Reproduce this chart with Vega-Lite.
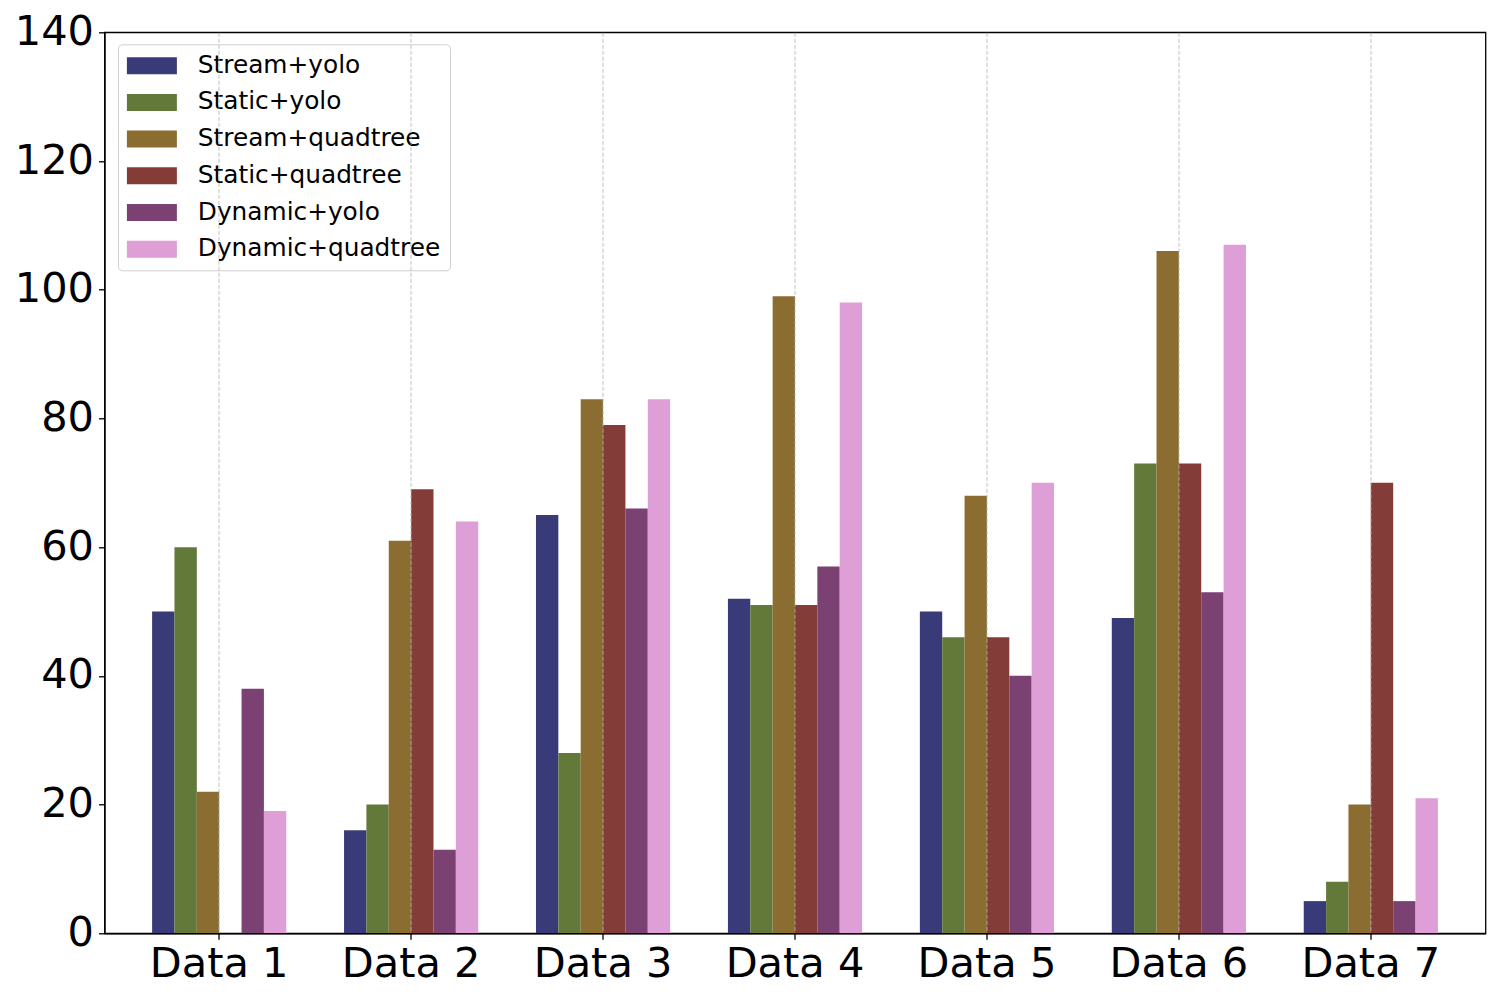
{
  "$schema": "https://vega.github.io/schema/vega-lite/v6.json",
  "width": 1381,
  "height": 901,
  "autosize": "none",
  "padding": {"left": 104.5, "top": 32.3, "right": 14.5, "bottom": 66.7},
  "background": "white",
  "config": {
    "font": "DejaVu Sans",
    "view": {"stroke": "black", "strokeWidth": 1.3}
  },
  "data": {
    "values": [
      {"dataset": "Data 1", "method": "Stream+yolo", "value": 50},
      {"dataset": "Data 1", "method": "Static+yolo", "value": 60},
      {"dataset": "Data 1", "method": "Stream+quadtree", "value": 22},
      {"dataset": "Data 1", "method": "Static+quadtree", "value": 0},
      {"dataset": "Data 1", "method": "Dynamic+yolo", "value": 38},
      {"dataset": "Data 1", "method": "Dynamic+quadtree", "value": 19},
      {"dataset": "Data 2", "method": "Stream+yolo", "value": 16},
      {"dataset": "Data 2", "method": "Static+yolo", "value": 20},
      {"dataset": "Data 2", "method": "Stream+quadtree", "value": 61},
      {"dataset": "Data 2", "method": "Static+quadtree", "value": 69},
      {"dataset": "Data 2", "method": "Dynamic+yolo", "value": 13},
      {"dataset": "Data 2", "method": "Dynamic+quadtree", "value": 64},
      {"dataset": "Data 3", "method": "Stream+yolo", "value": 65},
      {"dataset": "Data 3", "method": "Static+yolo", "value": 28},
      {"dataset": "Data 3", "method": "Stream+quadtree", "value": 83},
      {"dataset": "Data 3", "method": "Static+quadtree", "value": 79},
      {"dataset": "Data 3", "method": "Dynamic+yolo", "value": 66},
      {"dataset": "Data 3", "method": "Dynamic+quadtree", "value": 83},
      {"dataset": "Data 4", "method": "Stream+yolo", "value": 52},
      {"dataset": "Data 4", "method": "Static+yolo", "value": 51},
      {"dataset": "Data 4", "method": "Stream+quadtree", "value": 99},
      {"dataset": "Data 4", "method": "Static+quadtree", "value": 51},
      {"dataset": "Data 4", "method": "Dynamic+yolo", "value": 57},
      {"dataset": "Data 4", "method": "Dynamic+quadtree", "value": 98},
      {"dataset": "Data 5", "method": "Stream+yolo", "value": 50},
      {"dataset": "Data 5", "method": "Static+yolo", "value": 46},
      {"dataset": "Data 5", "method": "Stream+quadtree", "value": 68},
      {"dataset": "Data 5", "method": "Static+quadtree", "value": 46},
      {"dataset": "Data 5", "method": "Dynamic+yolo", "value": 40},
      {"dataset": "Data 5", "method": "Dynamic+quadtree", "value": 70},
      {"dataset": "Data 6", "method": "Stream+yolo", "value": 49},
      {"dataset": "Data 6", "method": "Static+yolo", "value": 73},
      {"dataset": "Data 6", "method": "Stream+quadtree", "value": 106},
      {"dataset": "Data 6", "method": "Static+quadtree", "value": 73},
      {"dataset": "Data 6", "method": "Dynamic+yolo", "value": 53},
      {"dataset": "Data 6", "method": "Dynamic+quadtree", "value": 107},
      {"dataset": "Data 7", "method": "Stream+yolo", "value": 5},
      {"dataset": "Data 7", "method": "Static+yolo", "value": 8},
      {"dataset": "Data 7", "method": "Stream+quadtree", "value": 20},
      {"dataset": "Data 7", "method": "Static+quadtree", "value": 70},
      {"dataset": "Data 7", "method": "Dynamic+yolo", "value": 5},
      {"dataset": "Data 7", "method": "Dynamic+quadtree", "value": 21}
    ]
  },
  "mark": {"type": "bar"},
  "encoding": {
    "x": {
      "field": "dataset",
      "type": "nominal",
      "scale": {"paddingInner": 0.301, "paddingOuter": 0.248},
      "axis": {
        "title": null,
        "labelAngle": 0,
        "labelFontSize": 41.5,
        "labelColor": "black",
        "labelPadding": 4,
        "tickColor": "black",
        "tickSize": 6,
        "tickWidth": 1.3,
        "domainColor": "black",
        "domainWidth": 1.3,
        "grid": true,
        "gridColor": "#b0b0b0",
        "gridOpacity": 0.8,
        "gridDash": [4, 2],
        "gridWidth": 1,
        "zindex": 1
      }
    },
    "xOffset": {
      "field": "method",
      "type": "nominal",
      "sort": ["Stream+yolo", "Static+yolo", "Stream+quadtree", "Static+quadtree", "Dynamic+yolo", "Dynamic+quadtree"],
      "scale": {"paddingInner": 0, "paddingOuter": 0}
    },
    "y": {
      "field": "value",
      "type": "quantitative",
      "scale": {"domain": [0, 140], "nice": false},
      "axis": {
        "title": null,
        "values": [0, 20, 40, 60, 80, 100, 120, 140],
        "labelFontSize": 41.5,
        "labelColor": "black",
        "labelPadding": 5,
        "tickColor": "black",
        "tickSize": 6,
        "tickWidth": 1.3,
        "domainColor": "black",
        "domainWidth": 1.3,
        "grid": false
      }
    },
    "color": {
      "field": "method",
      "type": "nominal",
      "sort": ["Stream+yolo", "Static+yolo", "Stream+quadtree", "Static+quadtree", "Dynamic+yolo", "Dynamic+quadtree"],
      "scale": {
        "domain": ["Stream+yolo", "Static+yolo", "Stream+quadtree", "Static+quadtree", "Dynamic+yolo", "Dynamic+quadtree"],
        "range": ["#393b79", "#637939", "#8c6d31", "#843c39", "#7b4173", "#de9ed6"]
      },
      "legend": {
        "title": null,
        "orient": "none",
        "legendX": 13.5,
        "legendY": 12,
        "symbolType": "M-1.47,-1L4.41,-1L4.41,1L-1.47,1Z",
        "symbolSize": 289,
        "symbolStrokeWidth": 0,
        "symbolOpacity": 1,
        "labelFontSize": 24.8,
        "labelColor": "black",
        "labelOffset": 46,
        "labelLimit": 500,
        "rowPadding": 10.7,
        "padding": 9,
        "strokeColor": "#d0d0d0",
        "fillColor": "white",
        "cornerRadius": 4
      }
    }
  }
}
